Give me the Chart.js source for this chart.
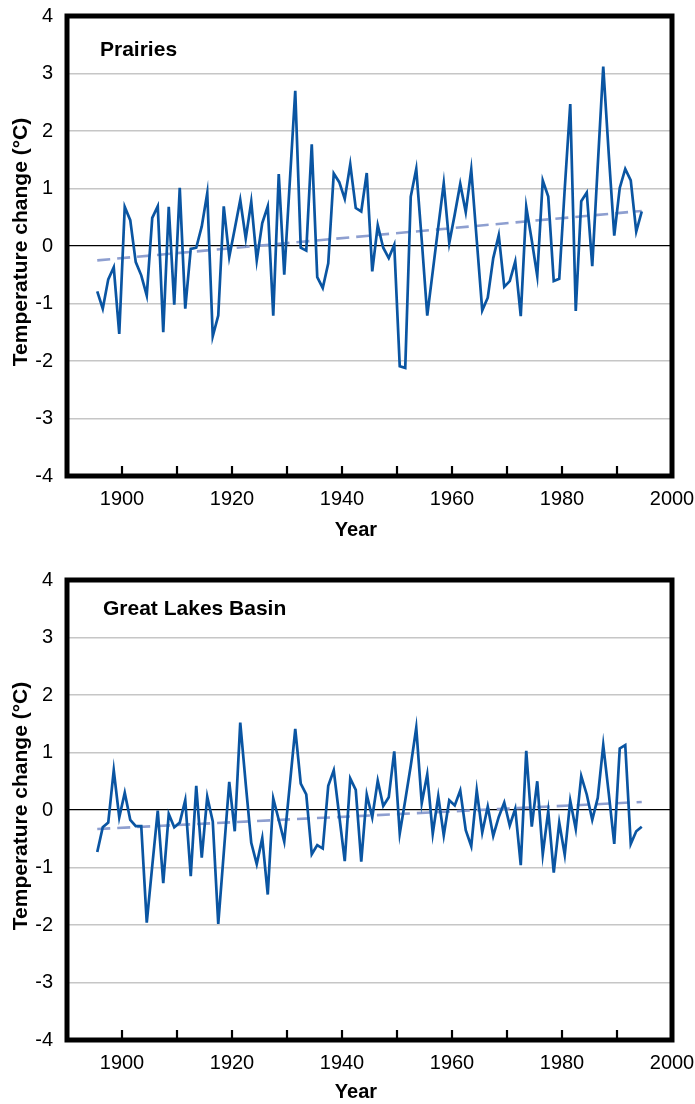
<!DOCTYPE html>
<html lang="en">
<head>
  <meta charset="UTF-8">
  <title>Temperature change: Prairies and Great Lakes Basin</title>
  <script src="https://cdn.jsdelivr.net/npm/chart.js"></script>
  <style>
    body { margin: 0; background: #fff; }
    .panel { position: absolute; left: 0; }
    #prairiesPanel { top: 0; }
    #lakesPanel { top: 560px; }
  </style>
</head>
<body>
  <div class="panel" id="prairiesPanel"><canvas id="prairiesChart" width="695" height="556"></canvas></div>
  <div class="panel" id="lakesPanel"><canvas id="lakesChart" width="695" height="544"></canvas></div>

  <script>
    // annual temperature departures (°C), 1895 onward
    const firstYear = 1895;
    const prairies = [
      -0.79, -1.09, -0.58, -0.37, -1.53, 0.68, 0.45, -0.28, -0.51, -0.86,
      0.49, 0.69, -1.50, 0.68, -1.02, 1.01, -1.09, -0.05, -0.03, 0.34,
      0.92, -1.57, -1.21, 0.69, -0.19, 0.30, 0.80, 0.13, 0.77, -0.25,
      0.40, 0.69, -1.21, 1.25, -0.50, 1.10, 2.70, -0.03, -0.08, 1.77,
      -0.54, -0.73, -0.30, 1.26, 1.11, 0.82, 1.42, 0.66, 0.60, 1.27,
      -0.44, 0.36, -0.03, -0.21, 0.02, -2.09, -2.12, 0.86, 1.34, 0.10,
      -1.21, -0.44, 0.33, 1.09, 0.05, 0.55, 1.08, 0.59, 1.33, 0.10,
      -1.12, -0.90, -0.21, 0.19, -0.71, -0.61, -0.27, -1.22, 0.68, 0.10,
      -0.52, 1.14, 0.86, -0.61, -0.57, 1.00, 2.47, -1.13, 0.78, 0.93,
      -0.35, 1.40, 3.12, 1.60, 0.18, 1.01, 1.34, 1.14, 0.25, 0.60
    ];
    const greatLakes = [
      -0.73, -0.30, -0.22, 0.69, -0.13, 0.30, -0.17, -0.28, -0.28, -1.96,
      -0.97, -0.01, -1.27, -0.07, -0.30, -0.22, 0.17, -1.15, 0.42, -0.83,
      0.23, -0.20, -1.98, -0.75, 0.49, -0.37, 1.52, 0.45, -0.57, -0.94,
      -0.49, -1.47, 0.20, -0.17, -0.55, 0.43, 1.41, 0.46, 0.27, -0.77,
      -0.61, -0.67, 0.42, 0.69, -0.10, -0.89, 0.55, 0.35, -0.90, 0.27,
      -0.13, 0.51, 0.07, 0.22, 1.02, -0.41, 0.17, 0.77, 1.43, 0.12,
      0.62, -0.41, 0.24, -0.44, 0.17, 0.08, 0.34, -0.35, -0.63, 0.34,
      -0.39, 0.06, -0.45, -0.12, 0.13, -0.27, 0.02, -0.96, 1.03, -0.29,
      0.50, -0.77, -0.02, -1.09, -0.22, -0.78, 0.16, -0.33, 0.59, 0.27,
      -0.17, 0.21, 1.13, 0.29, -0.59, 1.07, 1.13, -0.59, -0.37, -0.29
    ];
    // linear trend, start and end of record
    const prairiesTrend = [-0.25, 0.61];
    const greatLakesTrend = [-0.33, 0.14];

    const yearLabels = [1900, 1920, 1940, 1960, 1980, 2000];
    const decadeTicks = [1900, 1910, 1920, 1930, 1940, 1950, 1960, 1970, 1980, 1990];

    const FONT = '"Liberation Sans", Arial, sans-serif';
    const LINE_BLUE = '#0a55a2';
    const TREND_BLUE = '#8e9fd0';

    // annual means sit at mid-year
    const toPoints = vals => vals.map((v, i) => ({ x: firstYear + i + 0.5, y: v }));
    const trendPoints = (vals, n) => [
      { x: firstYear + 0.5, y: vals[0] },
      { x: firstYear + n - 0.5, y: vals[1] }
    ];

    // thick box, inward decade ticks and the bold labels
    const panelDecor = {
      id: 'panelDecor',
      afterDatasetsDraw(chart, args, opts) {
        const { ctx, chartArea: a, scales } = chart;
        ctx.save();
        ctx.strokeStyle = '#000';
        ctx.lineWidth = 2.2;
        decadeTicks.forEach(yr => {
          const x = scales.x.getPixelForValue(yr);
          ctx.beginPath();
          ctx.moveTo(x, a.bottom);
          ctx.lineTo(x, a.bottom - 10);
          ctx.stroke();
        });
        ctx.lineWidth = 5;
        ctx.strokeRect(a.left, a.top, a.right - a.left, a.bottom - a.top);

        ctx.fillStyle = '#000';
        ctx.font = 'bold 21px ' + FONT;
        ctx.textAlign = 'left';
        ctx.textBaseline = 'middle';
        ctx.fillText(opts.name, opts.nameX, a.top + opts.nameDY);

        ctx.textAlign = 'center';
        ctx.font = 'bold 20px ' + FONT;
        ctx.fillText('Year', 356, a.bottom + opts.yearDY);

        ctx.translate(21, (a.top + a.bottom) / 2 - 4);
        ctx.rotate(-Math.PI / 2);
        ctx.font = 'bold 21px ' + FONT;
        ctx.fillText('Temperature change (°C)', 0, 0);
        ctx.restore();
      }
    };

    function makePanel(canvasId, values, trend, look) {
      new Chart(document.getElementById(canvasId), {
        type: 'line',
        data: {
          datasets: [
            {
              data: toPoints(values),
              borderColor: LINE_BLUE,
              borderWidth: 2.7,
              pointRadius: 0,
              tension: 0,
              order: 0
            },
            {
              data: trendPoints(trend, values.length),
              borderColor: TREND_BLUE,
              borderWidth: 2.6,
              borderDash: [13, 7],
              pointRadius: 0,
              order: 1
            }
          ]
        },
        options: {
          responsive: false,
          animation: false,
          layout: { padding: { top: look.padTop, right: 23, left: 0, bottom: 0 } },
          plugins: {
            legend: { display: false },
            tooltip: { enabled: false },
            panelDecor: look
          },
          scales: {
            x: {
              type: 'linear',
              min: 1890,
              max: 2000,
              afterFit: s => {
                s.height = look.xAxisHeight;
                s.paddingLeft = 0;
                s.paddingRight = 0;
              },
              afterBuildTicks: s => {
                s.ticks = decadeTicks.concat([2000]).map(v => ({ value: v }));
              },
              ticks: {
                autoSkip: false,
                maxRotation: 0,
                padding: 3,
                color: '#000',
                font: { family: FONT, size: 20 },
                callback: v => yearLabels.includes(v) ? String(v) : ''
              },
              grid: { display: false },
              border: { display: false }
            },
            y: {
              min: -4,
              max: 4,
              afterFit: s => {
                s.width = 67;
                s.paddingTop = 0;
                s.paddingBottom = 0;
              },
              ticks: {
                stepSize: 1,
                padding: 14,
                color: '#000',
                font: { family: FONT, size: 20 }
              },
              grid: {
                drawTicks: false,
                color: c => c.tick.value === 0 ? '#000' : '#c6c6c6',
                lineWidth: c => c.tick.value === 0 ? 1.3 : 1.6
              },
              border: { display: false }
            }
          }
        },
        plugins: [panelDecor]
      });
    }

    makePanel('prairiesChart', prairies, prairiesTrend, {
      name: 'Prairies', nameX: 100, nameDY: 34, yearDY: 54,
      padTop: 16, xAxisHeight: 80
    });
    makePanel('lakesChart', greatLakes, greatLakesTrend, {
      name: 'Great Lakes Basin', nameX: 103, nameDY: 29, yearDY: 52,
      padTop: 20, xAxisHeight: 64
    });
  </script>
</body>
</html>
